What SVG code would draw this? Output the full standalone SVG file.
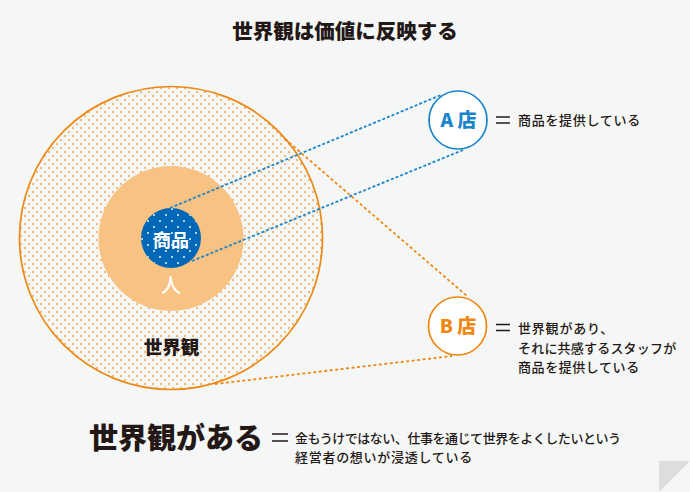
<svg xmlns="http://www.w3.org/2000/svg" width="690" height="492" viewBox="0 0 690 492">
<style>
text{font-family:"Noto Sans CJK JP","Noto Sans",sans-serif;fill:#231815}
.b{font-weight:900}
.m{font-weight:500;font-size:13px;letter-spacing:.8px}
.c{text-anchor:middle}
.blue{fill:none;stroke:#1b85cb;stroke-width:1.800;stroke-dasharray:3 2}
.or{fill:none;stroke:#ee8813;stroke-width:1.800;stroke-dasharray:3 2.500}
.eq{stroke:#231815;stroke-width:1.500}
</style>
<defs>
<pattern id="od" width="8" height="8" patternUnits="userSpaceOnUse" x="3" y="2">
<circle cx="2" cy="2" r="1" fill="#f3a44c"/><circle cx="6" cy="6" r="1" fill="#f3a44c"/>
</pattern>
<pattern id="wd" width="12" height="12" patternUnits="userSpaceOnUse" x="1" y="2">
<circle cx="3" cy="3" r=".95" fill="#fff"/><circle cx="9" cy="9" r=".95" fill="#fff"/>
</pattern>
</defs>
<rect width="690" height="492" fill="#f5f6f6"/>
<polygon points="690,461 659,461 659,492" fill="#dcdddd"/>
<text class="b c" x="345" y="38.500" font-size="20.500">世界観は価値に反映する</text>
<g id="node-world">
<circle cx="171" cy="238" r="151.500" fill="url(#od)" stroke="#ee8813" stroke-width="1.700"/>
<text class="b c" x="171.500" y="354" font-size="18.500">世界観</text>
</g>
<g id="node-person">
<circle cx="171" cy="238.500" r="72.500" fill="#f8c283"/>
<text class="c" x="171" y="293" font-size="20" font-weight="500" style="fill:#fff">人</text>
</g>
<g id="node-product">
<circle cx="171" cy="238" r="30" fill="#0068b7"/>
<circle cx="171" cy="238" r="30" fill="url(#wd)"/>
<text class="c" x="171" y="247" font-size="18" font-weight="700" style="fill:#fff">商品</text>
</g>
<g id="connectors">
<line class="blue" x1="170" y1="208" x2="441" y2="95"/>
<line class="blue" x1="192" y1="261" x2="463" y2="150"/>
<line class="or" x1="285" y1="139" x2="467" y2="296"/>
<line class="or" x1="215" y1="384" x2="452" y2="356"/>
</g>
<g id="node-a">
<circle cx="458" cy="120" r="29" fill="#fff" stroke="#1b85cb" stroke-width="1.700"/>
<text class="b c" x="458.500" y="127" font-size="19" style="fill:#1b85cb">A 店</text>
<line class="eq" x1="496" y1="117" x2="510" y2="117"/><line class="eq" x1="496" y1="123" x2="510" y2="123"/>
<text class="m" x="518" y="125" textLength="123">商品を提供している</text>
</g>
<g id="node-b">
<circle cx="457.500" cy="326" r="29" fill="#fff" stroke="#ee8813" stroke-width="1.700"/>
<text class="b c" x="458" y="333" font-size="19" style="fill:#ee8813">B 店</text>
<line class="eq" x1="496" y1="324.500" x2="510" y2="324.500"/><line class="eq" x1="496" y1="330.500" x2="510" y2="330.500"/>
<text class="m" x="518" y="333">世界観があり、</text>
<text class="m" x="518" y="353" textLength="159">それに共感するスタッフが</text>
<text class="m" x="518" y="372" textLength="122">商品を提供している</text>
</g>
<g id="node-summary">
<text class="b" x="89" y="449" font-size="29">世界観がある</text>
<line class="eq" x1="272" y1="434" x2="288" y2="434"/><line class="eq" x1="272" y1="441" x2="288" y2="441"/>
<text class="m" x="295" y="443" textLength="326" style="letter-spacing:0">金もうけではない、仕事を通じて世界をよくしたいという</text>
<text class="m" x="295" y="462" textLength="178">経営者の想いが浸透している</text>
</g>
</svg>
